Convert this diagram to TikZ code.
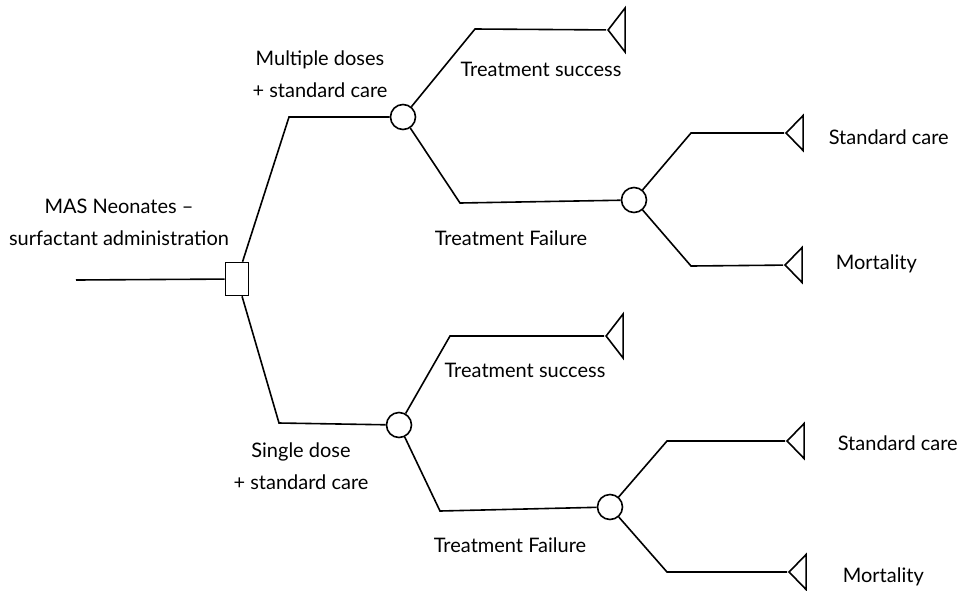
\documentclass[tikz,border=0pt]{standalone}
\usepackage{fontspec}
\setmainfont{Lato}
\usetikzlibrary{shapes.geometric}

\begin{document}
\begin{tikzpicture}[
            x = 0.5pt, y = -0.5pt, % one unit per pixel of the reference
            line width = 0.8pt, % line style
            font = \fontsize{10}{12}\selectfont
        ]

        \tikzstyle{decision}=[
            draw = black,
            rectangle,
            fill = white,
            inner sep = 0pt,
            minimum width = 11.5pt,
            minimum height = 16.5pt
        ]
        \tikzstyle{chance}=[
            draw = black,
            circle,
            fill = white,
            inner sep = 0pt,
            minimum size = 12.5pt
        ]
        \tikzstyle{outcome}=[
            draw = black,
            isosceles triangle,
            isosceles triangle stretches,
            shape border rotate = 180,
            inner sep = 0pt,
            minimum width = 17.5pt,
            minimum height = 8.5pt,
            anchor = apex
        ]
        \tikzstyle{tall}=[minimum width = 22pt]
        \tikzstyle{branchtext}=[align = center, inner sep = 0pt]

        \useasboundingbox (0,0) rectangle (963,590);

        % decision and chance nodes
        \coordinate (in) at (76,280);
        \node (d) [decision] at (237,279) {};
        \node (c1) [chance] at (403,117) {};
        \node (c2) [chance] at (634,200) {};
        \node (c3) [chance] at (399,425) {};
        \node (c4) [chance] at (610,507) {};

        % terminal nodes
        \node (e1) [outcome, tall] at (606,30) {};
        \node (e2) [outcome] at (784,133) {};
        \node (e3) [outcome] at (783,265) {};
        \node (e4) [outcome, tall] at (604,336) {};
        \node (e5) [outcome] at (785,441) {};
        \node (e6) [outcome] at (787,572) {};

        % elbows
        \coordinate (k1) at (289,117);
        \coordinate (k2) at (475,29);
        \coordinate (k3) at (460,203);
        \coordinate (k4) at (691,133);
        \coordinate (k5) at (691,266);
        \coordinate (k6) at (279,423);
        \coordinate (k7) at (450,336);
        \coordinate (k8) at (440,511);
        \coordinate (k9) at (667,441);
        \coordinate (k10) at (667,572);

        \draw (in) -- (d);
        \draw (d) -- (k1) -- (c1);
        \draw (d) -- (k6) -- (c3);
        \draw (c1) -- (k2) -- (e1);
        \draw (c1) -- (k3) -- (c2);
        \draw (c2) -- (k4) -- (e2);
        \draw (c2) -- (k5) -- (e3);
        \draw (c3) -- (k7) -- (e4);
        \draw (c3) -- (k8) -- (c4);
        \draw (c4) -- (k9) -- (e5);
        \draw (c4) -- (k10) -- (e6);

        % labels
        \node (lroot) [branchtext] at (119,222) {MAS Neonates --\\[4pt]surfactant administration};
        \node (lmult) [branchtext] at (320,74) {Multiple doses\\[4pt]+ standard care};
        \node (lsing) [branchtext] at (301,466) {Single dose\\[4pt]+ standard care};
        \node (ls1) [branchtext] at (541,69) {Treatment success};
        \node (lf1) [branchtext] at (511,238) {Treatment Failure};
        \node (ls2) [branchtext] at (525,370) {Treatment success};
        \node (lf2) [branchtext] at (510,545) {Treatment Failure};
        \node (lc1) [branchtext, anchor = west] at (828,137) {Standard care};
        \node (lm1) [branchtext, anchor = west] at (835,264) {Mortality};
        \node (lc2) [branchtext, anchor = west] at (837,443) {Standard care};
        \node (lm2) [branchtext, anchor = west] at (842,577) {Mortality};

    \end{tikzpicture}
\end{document}
